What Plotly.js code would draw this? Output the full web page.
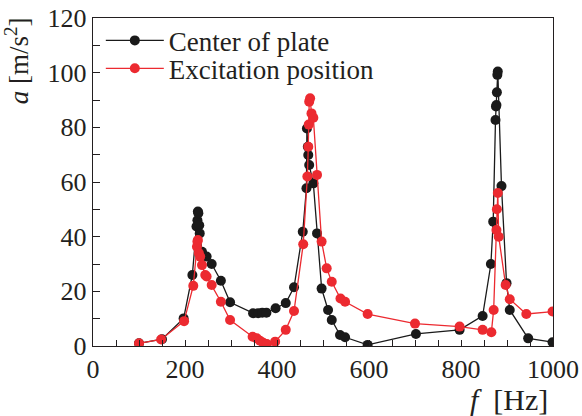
<!DOCTYPE html>
<html>
<head>
<meta charset="utf-8">
<script src="https://cdn.plot.ly/plotly-3.0.1.min.js"></script>
<style>
  html, body { margin: 0; padding: 0; background: #fff; }
  #plot { width: 582px; height: 416px; }
</style>
</head>
<body>
<div id="plot"></div>
<script>
// Acceleration response of the plate versus excitation frequency
const seriesNames = ['Center of plate', 'Excitation position'];

// Center of plate: frequency [Hz] and acceleration [m/s^2]
const centerFreq = [100, 150, 197, 216, 225, 227, 228, 229, 231, 232, 237, 247, 258, 278, 298,
  348, 359, 368, 377, 397, 419, 437, 456, 464, 465, 467, 468, 470, 479, 487, 497, 511, 519,
  537, 548, 597, 702, 797, 847, 865, 870, 875, 876, 877, 878, 879, 880, 888, 899, 906, 946, 999];
const centerAcc = [1.0, 2.5, 10.1, 26, 43.7, 46, 49.2, 48.6, 44.2, 41.2, 34.5, 32.7, 30, 23.9, 16,
  12, 12, 12.2, 12.2, 13.8, 15.7, 21.5, 41.8, 57.7, 79.6, 72.9, 69.9, 66.2, 59.5, 41.2, 21, 13.2, 9.5,
  4, 3.2, 0.4, 4.4, 5.9, 11, 30, 45.5, 82.7, 87.6, 88.2, 92.8, 99.2, 100.4, 58.5, 23, 13.2, 2.8, 1.4];

// Excitation position: frequency [Hz] and acceleration [m/s^2]
const excitFreq = [100, 148, 198, 218, 226, 227, 228, 230, 233, 237, 244, 247, 258, 278, 298,
  347, 356, 363, 370, 378, 396, 419, 437, 457, 466, 468, 469, 470, 472, 475, 479, 487, 497, 508, 519,
  538, 548, 597, 700, 797, 847, 866, 871, 877, 878, 880, 882, 897, 906, 942, 999];
const excitAcc = [1.0, 2.4, 9.1, 22, 36.3, 38.2, 38.8, 34, 32.7, 29.6, 26, 25.4, 22.3, 16.2, 9.5,
  3.4, 2.8, 1.9, 1.2, 0.7, 1.6, 5.9, 12.8, 37.2, 62, 72.9, 81, 89.4, 90.6, 85.1, 83.5, 62.6, 38.2, 28.4, 23.5,
  17.4, 16.2, 11.7, 8.2, 7.1, 5.9, 5.0, 13.2, 42.4, 50, 56, 40, 22.3, 17.1, 11.7, 12.6];

const xTickVals = [0, 200, 400, 600, 800, 1000];
const yTickVals = [0, 20, 40, 60, 80, 100, 120];

const black = '#1a1a1a';
const red = '#ec2a30';
const ink = '#231f20';
const serif = 'Liberation Serif, Times New Roman, serif';

const traces = [
  {
    x: centerFreq, y: centerAcc, name: seriesNames[0], type: 'scatter', mode: 'lines+markers',
    line: { color: black, width: 1.3 },
    marker: { color: black, size: 10 },
    legend: 'legend'
  },
  {
    x: excitFreq, y: excitAcc, name: seriesNames[1], type: 'scatter', mode: 'lines+markers',
    line: { color: red, width: 1.3 },
    marker: { color: red, size: 10 },
    legend: 'legend2'
  }
];

// one legend box per series so the two rows sit close together
const legendBase = {
  xanchor: 'left', yanchor: 'top',
  bgcolor: 'rgba(0,0,0,0)', borderwidth: 0,
  font: { family: serif, size: 27, color: ink },
  itemwidth: 58
};

const layout = {
  width: 582, height: 416,
  margin: { l: 93, r: 29, t: 18, b: 70 },
  paper_bgcolor: '#fff', plot_bgcolor: '#fff',
  font: { family: serif, color: ink, size: 25 },
  showlegend: true,
  legend: Object.assign({}, legendBase, { x: 0.017, y: 1.005 }),
  legend2: Object.assign({}, legendBase, { x: 0.017, y: 0.92 }),
  xaxis: {
    range: [0, 1000], tickvals: xTickVals, ticktext: xTickVals.map(String),
    ticks: 'inside', ticklen: 6, tickwidth: 1, tickcolor: ink,
    minor: { dtick: 50, tick0: 0, ticks: 'inside', ticklen: 6, tickwidth: 1, tickcolor: ink },
    showline: true, linecolor: ink, linewidth: 1.2, mirror: true,
    showgrid: false, zeroline: false,
    tickfont: { family: serif, size: 26, color: ink }
  },
  yaxis: {
    range: [0, 120], tickvals: yTickVals, ticktext: yTickVals.map(String),
    ticks: 'inside', ticklen: 7, tickwidth: 1, tickcolor: ink,
    minor: { dtick: 10, tick0: 0, ticks: 'inside', ticklen: 7, tickwidth: 1, tickcolor: ink },
    showline: true, linecolor: ink, linewidth: 1.2, mirror: true,
    showgrid: false, zeroline: false,
    tickfont: { family: serif, size: 26, color: ink }
  },
  annotations: [
    {
      text: '<i>f</i>  [Hz]', xref: 'paper', yref: 'paper', x: 0.993, y: -0.107,
      xanchor: 'right', yanchor: 'top', showarrow: false,
      font: { family: serif, size: 30, color: ink }
    },
    {
      text: '<i>a</i> [m/s<sup>2</sup>]', xref: 'paper', yref: 'paper', x: -0.166, y: 0.87,
      xanchor: 'center', yanchor: 'middle', textangle: -90, showarrow: false,
      font: { family: serif, size: 27, color: ink }
    }
  ]
};

Plotly.newPlot('plot', traces, layout, { displayModeBar: false, staticPlot: true });
</script>
</body>
</html>
